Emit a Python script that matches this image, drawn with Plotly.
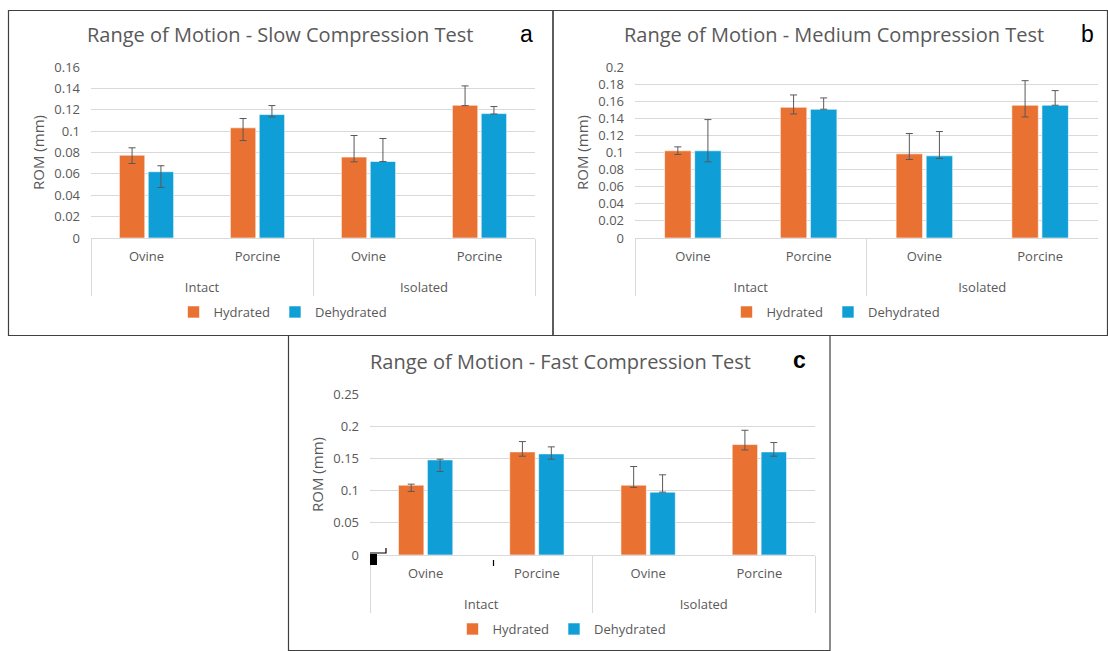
import plotly.graph_objects as go

groups = ["Intact", "Intact", "Isolated", "Isolated"]
species = ["Ovine", "Porcine", "Ovine", "Porcine"]

# Slow compression (a)
slow_hyd = [0.0775, 0.1031, 0.0757, 0.1242]
slow_hyd_plus = [0.0069, 0.0087, 0.0202, 0.0181]
slow_hyd_minus = [0.0078, 0.0119, 0.0044, 0.0003]
slow_dehyd = [0.0620, 0.1155, 0.0716, 0.1164]
slow_dehyd_plus = [0.0056, 0.0084, 0.0215, 0.0066]
slow_dehyd_minus = [0.0147, 0.0022, 0.0000, 0.0004]

# Medium compression (b)
med_hyd = [0.1020, 0.1529, 0.0984, 0.1553]
med_hyd_plus = [0.0046, 0.0144, 0.0238, 0.0287]
med_hyd_minus = [0.0043, 0.0078, 0.0066, 0.0137]
med_dehyd = [0.1020, 0.1506, 0.0961, 0.1553]
med_dehyd_plus = [0.0365, 0.0132, 0.0284, 0.0171]
med_dehyd_minus = [0.0129, 0.0000, 0.0031, 0.0000]

# Fast compression (c)
fast_hyd = [0.1085, 0.1601, 0.1085, 0.1715]
fast_hyd_plus = [0.0015, 0.0160, 0.0289, 0.0222]
fast_hyd_minus = [0.0098, 0.0067, 0.0036, 0.0083]
fast_dehyd = [0.1477, 0.1570, 0.0976, 0.1601]
fast_dehyd_plus = [0.0011, 0.0109, 0.0269, 0.0145]
fast_dehyd_minus = [0.0181, 0.0082, 0.0000, 0.0067]

series_names = ["Hydrated", "Dehydrated"]
titles = ["Range of Motion - Slow Compression Test",
          "Range of Motion - Medium Compression Test",
          "Range of Motion - Fast Compression Test"]
panel_letters = ["a", "b", "c"]
y_ranges = [[0, 0.16], [0, 0.2], [0, 0.25]]
y_dticks = [0.02, 0.02, 0.05]

ORANGE = "#E97132"
BLUE = "#0F9ED5"
GREY = "#595959"
GRID = "#D9D9D9"
FONT = "Open Sans"

W, H = 1108, 651


def px(x):
    return x / W


def py(y):
    return 1 - y / H


# inner category labels carry an empty second line so the outer row sits lower
species_lbl = [s + "<br>\u00a0" for s in species]

fig = go.Figure()

panels = [
    (slow_hyd, slow_hyd_plus, slow_hyd_minus, slow_dehyd, slow_dehyd_plus, slow_dehyd_minus),
    (med_hyd, med_hyd_plus, med_hyd_minus, med_dehyd, med_dehyd_plus, med_dehyd_minus),
    (fast_hyd, fast_hyd_plus, fast_hyd_minus, fast_dehyd, fast_dehyd_plus, fast_dehyd_minus),
]

# pixel layout of plot areas: (x0, x1, ytop, ybottom)
areas = [(91, 535, 67, 238), (635, 1098, 67, 238), (370, 815, 394, 555)]
legend_keys = ["legend", "legend2", "legend3"]
legend_pos = [(283, 312), (836, 312), (562, 629)]
title_pos = [(280, 34), (834, 34), (560, 361)]
letter_pos = [(526, 34), (1087, 34), (799, 360)]
letter_bold = [False, False, True]
borders = [(8.5, 10.5, 553, 335.5), (553, 10.5, 1107.5, 335.5), (288.5, 335.5, 830, 650.5)]

for i, (h, hp, hm, d, dp, dm) in enumerate(panels):
    sfx = "" if i == 0 else str(i + 1)
    xa, ya = "x" + sfx, "y" + sfx
    for name, vals, plus, minus, col in [
        (series_names[0], h, hp, hm, ORANGE),
        (series_names[1], d, dp, dm, BLUE),
    ]:
        fig.add_trace(go.Bar(
            x=[groups, species_lbl], y=vals, name=name,
            marker=dict(color=col, line=dict(color="white", width=0.6)),
            error_y=dict(type="data", symmetric=False, array=plus, arrayminus=minus,
                         color=GREY, thickness=1, width=3.5),
            xaxis=xa, yaxis=ya, legend=legend_keys[i],
        ))
    x0, x1, yt, yb = areas[i]
    fig.layout["xaxis" + sfx] = dict(
        domain=[px(x0), px(x1)], anchor=ya, type="multicategory",
        showline=True, linecolor=GRID, linewidth=1,
        showdividers=True, dividercolor=GRID, dividerwidth=1,
        tickfont=dict(family=FONT, size=13, color=GREY),
        ticks="", showgrid=False, automargin=False, ticklabelstandoff=6,
    )
    fig.layout["yaxis" + sfx] = dict(
        domain=[py(yb), py(yt)], anchor=xa,
        range=y_ranges[i], dtick=y_dticks[i], tick0=0,
        showgrid=True, gridcolor=GRID, gridwidth=1, zeroline=False,
        showline=False, ticks="", automargin=False, ticklabelstandoff=10,
        tickfont=dict(family=FONT, size=13, color=GREY),
        title=dict(text="ROM (mm)", font=dict(family=FONT, size=15, color=GREY), standoff=6),
    )
    lx, ly = legend_pos[i]
    fig.layout[legend_keys[i]] = dict(
        orientation="h", x=px(lx), y=py(ly), xanchor="center", yanchor="middle",
        font=dict(family=FONT, size=13, color=GREY), bgcolor="rgba(0,0,0,0)",
        itemwidth=30, traceorder="normal",
    )
    tx, ty = title_pos[i]
    fig.add_annotation(text=titles[i], x=px(tx), y=py(ty), xref="paper", yref="paper",
                       showarrow=False, xanchor="center", yanchor="middle",
                       font=dict(family=FONT, size=20, color=GREY))
    lx_, ly_ = letter_pos[i]
    txt = "<b>%s</b>" % panel_letters[i] if letter_bold[i] else panel_letters[i]
    fig.add_annotation(text=txt, x=px(lx_), y=py(ly_), xref="paper", yref="paper",
                       showarrow=False, xanchor="center", yanchor="middle",
                       font=dict(family="Liberation Sans", size=23, color="black"))
    bx0, by0, bx1, by1 = borders[i]
    fig.add_shape(type="rect", xref="paper", yref="paper",
                  x0=px(bx0), x1=px(bx1), y0=py(by1), y1=py(by0),
                  line=dict(color="#404040", width=1.2), fillcolor="rgba(0,0,0,0)", layer="above")

# small black screen-capture marks in panel c
fig.add_shape(type="rect", xref="paper", yref="paper", x0=px(370), x1=px(377), y0=py(565), y1=py(554),
              line=dict(width=0), fillcolor="black", layer="above")
fig.add_shape(type="path", xref="paper", yref="paper",
              path="M %f,%f L %f,%f L %f,%f" % (px(370), py(553), px(386), py(553), px(386), py(548)),
              line=dict(color="black", width=1.2), layer="above")
fig.add_shape(type="line", xref="paper", yref="paper", x0=px(493.5), x1=px(493.5), y0=py(560), y1=py(566),
              line=dict(color="black", width=1.2), layer="above")

fig.update_layout(
    width=W, height=H, margin=dict(l=0, r=0, t=0, b=0, autoexpand=False),
    paper_bgcolor="white", plot_bgcolor="white",
    barmode="group", bargap=0.48, bargroupgap=0.12,
    showlegend=True,
)

fig.write_html("out.html")
